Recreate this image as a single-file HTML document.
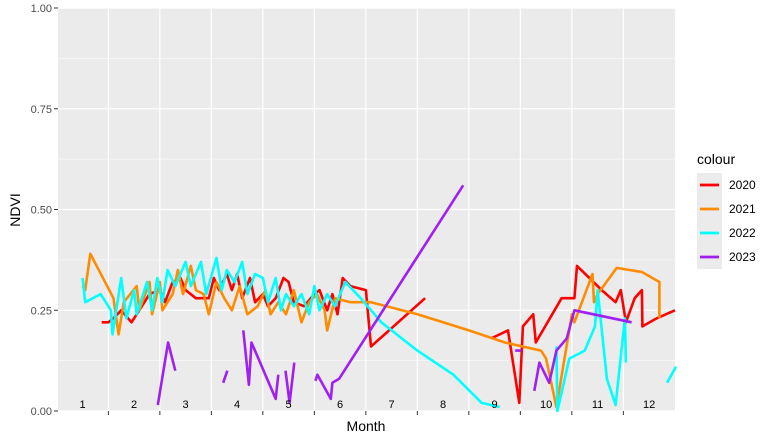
<!DOCTYPE html>
<html><head><meta charset="utf-8"><style>
body{margin:0;background:#fff}
svg{display:block;font-family:"Liberation Sans",Arial,sans-serif}
</style></head><body>
<svg id="chart" width="773" height="442"></svg>
<script>
const yTicks=[0,0.25,0.5,0.75,1];
const yTickLabels=["0.00","0.25","0.50","0.75","1.00"];
const months=[1,2,3,4,5,6,7,8,9,10,11,12];
const years=["2020","2021","2022","2023"];
const colors=["#ff0000","#ff8c00","#00ffff","#a020f0"];
const s2020=[[1.37,0.22],[1.5,0.22],[1.6,0.23],[1.75,0.25],[1.95,0.22],[2.1,0.25],[2.3,0.29],[2.5,0.3],[2.6,0.27],[2.75,0.32],[2.9,0.33],[3.0,0.3],[3.2,0.28],[3.45,0.28],[3.55,0.33],[3.65,0.3],[3.8,0.34],[3.9,0.3],[4.0,0.34],[4.1,0.28],[4.25,0.33],[4.35,0.27],[4.5,0.29],[4.6,0.26],[4.75,0.28],[4.9,0.33],[5.0,0.32],[5.1,0.27],[5.3,0.26],[5.5,0.29],[5.6,0.3],[5.75,0.25],[5.85,0.29],[5.95,0.24],[6.05,0.33],[6.2,0.31],[6.5,0.3],[6.6,0.16],[7.65,0.28],null,[8.93,0.18],[9.26,0.2],[9.48,0.02],[9.55,0.21],[9.75,0.24],[9.8,0.17],[10.3,0.28],[10.55,0.28],[10.6,0.36],[11.08,0.3],[11.35,0.27],[11.45,0.3],[11.55,0.22],[11.72,0.28],[11.86,0.3],[11.87,0.21],[12.15,0.23],[12.5,0.25]];
const s2021=[[1.0,0.31],[1.05,0.3],[1.15,0.39],[1.6,0.28],[1.7,0.19],[1.8,0.27],[2.05,0.31],[2.1,0.25],[2.3,0.32],[2.35,0.24],[2.5,0.32],[2.55,0.25],[2.75,0.29],[2.85,0.35],[2.95,0.29],[3.1,0.36],[3.2,0.3],[3.35,0.29],[3.45,0.24],[3.6,0.32],[3.75,0.28],[3.9,0.25],[4.05,0.31],[4.2,0.24],[4.4,0.26],[4.55,0.3],[4.65,0.24],[4.8,0.27],[4.95,0.24],[5.1,0.3],[5.25,0.22],[5.4,0.27],[5.55,0.29],[5.7,0.25],[5.75,0.2],[5.9,0.28],[6.2,0.27],[6.6,0.27],[7.5,0.24],[8.5,0.2],[9.2,0.17],[9.9,0.15],[10.0,0.13],[10.2,0.01],[10.5,0.24],[10.55,0.22],[10.9,0.34],[10.93,0.27],[11.0,0.29],[11.37,0.355],[11.86,0.345],[12.2,0.32],[12.2,0.23]];
const s2022=[[1.0,0.33],[1.05,0.27],[1.35,0.29],[1.55,0.25],[1.58,0.19],[1.75,0.33],[1.85,0.23],[2.0,0.3],[2.05,0.24],[2.25,0.32],[2.35,0.25],[2.45,0.33],[2.55,0.27],[2.65,0.35],[2.8,0.31],[3.0,0.37],[3.1,0.31],[3.3,0.37],[3.4,0.29],[3.6,0.38],[3.7,0.3],[3.8,0.35],[3.95,0.32],[4.1,0.37],[4.2,0.29],[4.35,0.34],[4.5,0.33],[4.6,0.27],[4.75,0.33],[4.85,0.25],[4.95,0.29],[5.1,0.26],[5.25,0.29],[5.4,0.24],[5.5,0.31],[5.6,0.25],[5.75,0.29],[5.9,0.26],[6.1,0.32],[6.4,0.28],[6.8,0.22],[7.5,0.15],[8.2,0.09],[8.75,0.02],[9.1,0.01],null,[10.2,0.16],[10.22,0.0],[10.45,0.13],[10.75,0.15],[10.95,0.21],[11.0,0.3],[11.18,0.08],[11.35,0.015],[11.53,0.23],[11.55,0.12],null,[12.35,0.07],[12.52,0.11]];
const s2023=[[2.46,0.015],[2.66,0.17],[2.8,0.1],null,[3.73,0.07],[3.81,0.1],null,[4.12,0.2],[4.23,0.065],[4.28,0.17],[4.75,0.03],[4.8,0.09],null,[4.94,0.1],[5.02,0.02],[5.11,0.12],null,[5.52,0.075],[5.56,0.09],[5.82,0.03],[5.85,0.07],[5.98,0.08],[8.39,0.56],null,[9.4,0.15],[9.52,0.15],null,[9.77,0.05],[9.87,0.12],[10.06,0.07],[10.2,0.15],[10.4,0.18],[10.55,0.25],[11.66,0.22]];
const series=[s2020,s2021,s2022,s2023];

const NS="http://www.w3.org/2000/svg";
const svg=document.getElementById('chart');
const L=58,R=675,T=8,B=411;
const x=m=>82.6+(m-1)*51.5;
const y=v=>B-v*(B-T);
function el(tag,attrs,parent){const e=document.createElementNS(NS,tag);for(const k in attrs)e.setAttribute(k,attrs[k]);(parent||svg).appendChild(e);return e;}

const panel=el('rect',{x:L,y:T,width:R-L,height:B-T,fill:'#ebebeb'});


for(let i=0;i<yTicks.length-1;i++){
  const g=el('line',{x1:L,x2:R,y1:y((yTicks[i]+yTicks[i+1])/2),y2:y((yTicks[i]+yTicks[i+1])/2),stroke:'#fff','stroke-width':0.6});
  
  
}
yTicks.forEach((t,i)=>{
  const g=el('line',{x1:L,x2:R,y1:y(t),y2:y(t),stroke:'#fff','stroke-width':1.2});
  
  
  const tk=el('line',{x1:L-4,x2:L,y1:y(t),y2:y(t),stroke:'#333','stroke-width':1});
  
  
  const lb=el('text',{x:L-6,y:y(t)+4,'text-anchor':'end','font-size':11,fill:'#4d4d4d'});
  lb.textContent=yTickLabels[i];
  
  
});
months.forEach(m=>{
  if(m<12){
    const g=el('line',{x1:x(m+0.5),x2:x(m+0.5),y1:T,y2:B,stroke:'#fff','stroke-width':1.2});
    
    
    const tk=el('line',{x1:x(m+0.5),x2:x(m+0.5),y1:B,y2:B+4,stroke:'#333','stroke-width':1});
    
    
  }
});
series.forEach((s,i)=>{
  let d='',pen=false;
  s.forEach(p=>{if(!p){pen=false;return;}d+=(pen?'L':'M')+x(p[0]).toFixed(1)+','+y(p[1]).toFixed(1);pen=true;});
  const ln=el('path',{d:d,fill:'none',stroke:colors[i],'stroke-width':2.6,'stroke-linejoin':'round'});
  
  
});
months.forEach(m=>{
  const t=el('text',{x:x(m),y:408,'text-anchor':'middle','font-size':11,fill:'#000'});
  t.textContent=m;
  
  
});
const xt=el('text',{x:366,y:431,'text-anchor':'middle','font-size':14,fill:'#000'});
xt.textContent='Month';


const yt=el('text',{x:20,y:210,'text-anchor':'middle','font-size':14,fill:'#000',transform:'rotate(-90 20 210)'});
yt.textContent='NDVI';


const lt=el('text',{x:697,y:164,'font-size':14,fill:'#000'});
lt.textContent='colour';


years.forEach((yr,i)=>{
  const cy=185+i*24;
  const bg=el('rect',{x:697,y:cy-12,width:25,height:24,fill:'#ebebeb'});
  
  
  const k=el('line',{x1:700,x2:719,y1:cy,y2:cy,stroke:colors[i],'stroke-width':2.8});
  
  
  const t=el('text',{x:729,y:cy+4,'font-size':12,fill:'#000'});
  t.textContent=yr;
  
  
});
</script>
</body></html>
